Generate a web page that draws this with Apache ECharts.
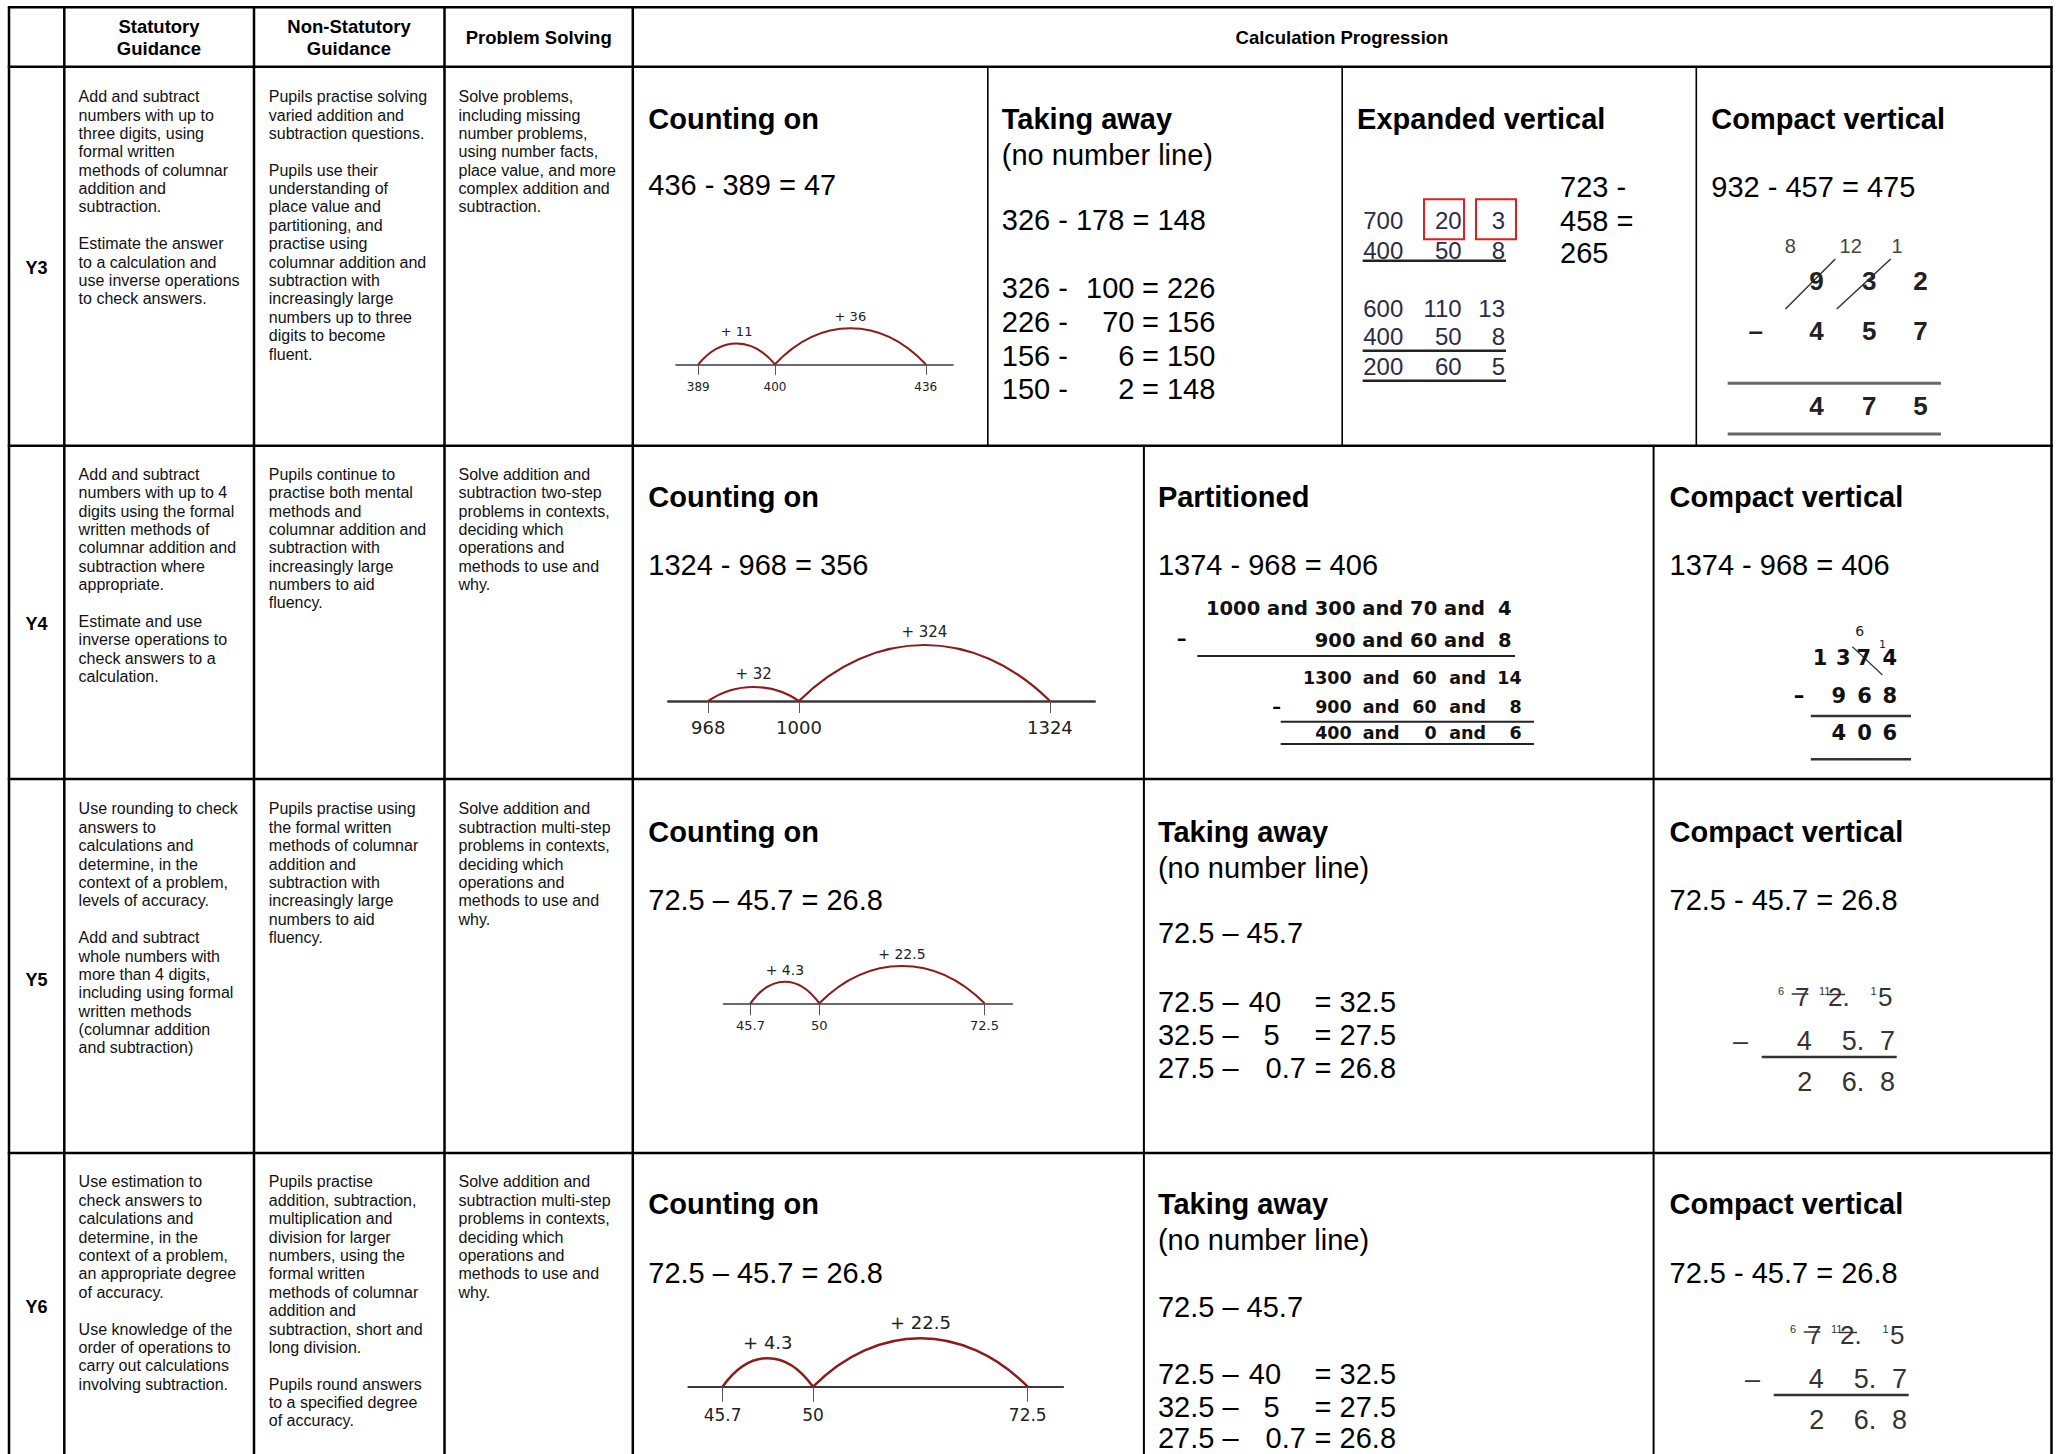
<!DOCTYPE html>
<html><head><meta charset="utf-8">
<script src="https://cdn.jsdelivr.net/npm/echarts@6/dist/echarts.min.js"></script>
<style>html,body{margin:0;padding:0;background:#fff}#c{width:2058px;height:1454px}</style>
</head><body><div id="c"></div>
<script>
// ---------------- data ----------------
const headers = ['Statutory\nGuidance', 'Non-Statutory\nGuidance', 'Problem Solving', 'Calculation Progression'];
const years = ['Y3', 'Y4', 'Y5', 'Y6'];

const statutory = [
  ['Add and subtract','numbers with up to','three digits, using','formal written','methods of columnar','addition and','subtraction.','','Estimate the answer','to a calculation and','use inverse operations','to check answers.'],
  ['Add and subtract','numbers with up to 4','digits using the formal','written methods of','columnar addition and','subtraction where','appropriate.','','Estimate and use','inverse operations to','check answers to a','calculation.'],
  ['Use rounding to check','answers to','calculations and','determine, in the','context of a problem,','levels of accuracy.','','Add and subtract','whole numbers with','more than 4 digits,','including using formal','written methods','(columnar addition','and subtraction)'],
  ['Use estimation to','check answers to','calculations and','determine, in the','context of a problem,','an appropriate degree','of accuracy.','','Use knowledge of the','order of operations to','carry out calculations','involving subtraction.']
];
const nonStatutory = [
  ['Pupils practise solving','varied addition and','subtraction questions.','','Pupils use their','understanding of','place value and','partitioning, and','practise using','columnar addition and','subtraction with','increasingly large','numbers up to three','digits to become','fluent.'],
  ['Pupils continue to','practise both mental','methods and','columnar addition and','subtraction with','increasingly large','numbers to aid','fluency.'],
  ['Pupils practise using','the formal written','methods of columnar','addition and','subtraction with','increasingly large','numbers to aid','fluency.'],
  ['Pupils practise','addition, subtraction,','multiplication and','division for larger','numbers, using the','formal written','methods of columnar','addition and','subtraction, short and','long division.','','Pupils round answers','to a specified degree','of accuracy.']
];
const problemSolving = [
  ['Solve problems,','including missing','number problems,','using number facts,','place value, and more','complex addition and','subtraction.'],
  ['Solve addition and','subtraction two-step','problems in contexts,','deciding which','operations and','methods to use and','why.'],
  ['Solve addition and','subtraction multi-step','problems in contexts,','deciding which','operations and','methods to use and','why.'],
  ['Solve addition and','subtraction multi-step','problems in contexts,','deciding which','operations and','methods to use and','why.']
];

// number lines: tick values, where each tick sits along the (not-to-scale) line, jump sizes, relative arc rise
const y3Marks = [389, 400, 436];   const y3Spots = [0, 1, 2.965]; const y3Jumps = [11, 36];    const y3Rise = [0.58, 1];
const y4Marks = [968, 1000, 1324]; const y4Spots = [0, 1, 3.768]; const y4Jumps = [32, 324];   const y4Rise = [0.25, 1];
const y5Marks = [45.7, 50, 72.5];  const y5Spots = [0, 1, 3.399]; const y5Jumps = [4.3, 22.5]; const y5Rise = [0.58, 1];
const y6Marks = [45.7, 50, 72.5];  const y6Spots = [0, 1, 3.374]; const y6Jumps = [4.3, 22.5]; const y6Rise = [0.59, 1];

// calculation texts
const y3Steps = [['326 -','100','= 226'],['226 -','70','= 156'],['156 -','6','= 150'],['150 -','2','= 148']];
const y5Steps = [['72.5 –','40','= 32.5'],['32.5 –','5','= 27.5'],['27.5 –','0.7','= 26.8']];
const y6Steps = [['72.5 –','40','= 32.5'],['32.5 –','5','= 27.5'],['27.5 –','0.7','= 26.8']];
const y3Expanded = [['700','20','3'],['400','50','8'],['600','110','13'],['400','50','8'],['200','60','5']];
const y4PartTop = [['1000 and 300 and 70 and','4'],['900 and 60 and','8']];
const y4PartBottom = [['1300','60','14'],['900','60','8'],['400','0','6']];
const y3Carry = ['8','12','1'], y3Top = ['9','3','2'], y3Sub = ['4','5','7'], y3Ans = ['4','7','5'];
const y4Top = ['1','3','7','4'], y4Sub = ['9','6','8'], y4Ans = ['4','0','6'];
const decTop = [['6','small'],['7','big'],['11','small'],['2.','big'],['1','small'],['5','big']];
const decSub = ['–','4','5.','7'];
const decAns = ['2','6.','8'];

// ---------------- helpers ----------------
const SANS = '"Liberation Sans", Arial, Helvetica, sans-serif';
const DV = '"DejaVu Sans", Verdana, sans-serif';
function T(text, x, y, size, o) {
  o = o || {};
  const align = o.align || 'left', va = o.va || 'middle';
  const style = {text: text, font: (o.bold ? 'bold ' : '') + size + 'px ' + (o.family || SANS),
    fill: o.color || '#000', textAlign: align, align: align, textVerticalAlign: va, verticalAlign: va};
  if (o.lh) style.lineHeight = o.lh;
  return {type: 'text', x: x, y: y, silent: true, z: 10, style: style};
}
function L(x1, y1, x2, y2, w, c) {
  return {type: 'line', silent: true, z: 5, shape: {x1: x1, y1: y1, x2: x2, y2: y2}, style: {stroke: c || '#000', lineWidth: w || 2}};
}
function R(x, y, w, h, c, lw) {
  return {type: 'rect', silent: true, z: 6, shape: {x: x, y: y, width: w, height: h}, style: {fill: 'none', stroke: c, lineWidth: lw}};
}

const els = [];
// ---------------- table frame ----------------
const X = [9, 64.3, 254, 444.5, 632.8, 2051.5];
const Yh = [7.3, 66.7, 445.7, 779, 1153];
const BOTTOM = 1454;
X.forEach(x => els.push(L(x, Yh[0], x, BOTTOM, 2.5)));
Yh.forEach(y => els.push(L(X[0] - 1.2, y, X[5] + 1.2, y, 2.5)));
[987.8, 1342.2, 1696.3].forEach(x => els.push(L(x, Yh[1], x, Yh[2], 1.6)));
[1143.9, 1653.6].forEach(x => els.push(L(x, Yh[2], x, BOTTOM, 2)));

// headers
els.push(T(headers[0], 159, 37.5, 18.5, {bold: true, align: 'center', lh: 21.6}));
els.push(T(headers[1], 349, 37.5, 18.5, {bold: true, align: 'center', lh: 21.6}));
els.push(T(headers[2], 538.7, 37.7, 18.5, {bold: true, align: 'center'}));
els.push(T(headers[3], 1342, 37.7, 18.5, {bold: true, align: 'center'}));

// year labels and guidance paragraphs
const yearY = [268, 624, 980, 1306.7];
const paraY = [96.7, 474.3, 809, 1182];
const LH = 18.38;
years.forEach((yr, i) => {
  els.push(T(yr, 36.6, yearY[i], 18, {bold: true, align: 'center'}));
  [statutory, nonStatutory, problemSolving].forEach((col, c) => {
    els.push(T(col[i].join('\n'), [78.6, 268.8, 458.5][c], paraY[i] - LH / 2, 16, {va: 'top', lh: LH, color: '#111'}));
  });
});

// ---------------- Y3 calculation cells ----------------
els.push(T('Counting on', 648.3, 118.5, 29, {bold: true}));
els.push(T('436 - 389 = 47', 648.3, 185, 29));
els.push(T('Taking away', 1001.8, 118.5, 29, {bold: true}));
els.push(T('(no number line)', 1001.8, 155, 29));
els.push(T('326 - 178 = 148', 1001.8, 220, 29));
[288.3, 321.7, 355.7, 389.3].forEach((y, i) => {
  els.push(T(y3Steps[i][0], 1001.8, y, 29));
  els.push(T(y3Steps[i][1], 1134.5, y, 29, {align: 'right'}));
  els.push(T(y3Steps[i][2], 1142, y, 29));
});
els.push(T('Expanded vertical', 1357.1, 118.5, 29, {bold: true}));
els.push(T('723 -', 1560, 186.7, 29));
els.push(T('458 =', 1560, 221, 29));
els.push(T('265', 1560, 253.3, 29));
[220, 250, 308.3, 336.7, 366.7].forEach((y, r) => {
  [1403.3, 1461.7, 1505].forEach((x, c) => els.push(T(y3Expanded[r][c], x, y, 24, {align: 'right', color: '#2b2b48'})));
});
[260.7, 350.7, 380.7].forEach(y => els.push(L(1362.7, y, 1506, y, 2.5, '#222')));
els.push(R(1424, 199.3, 40, 40, '#e51c1c', 2));
els.push(R(1476, 199.3, 40, 40, '#e51c1c', 2));

els.push(T('Compact vertical', 1711.3, 118.5, 29, {bold: true}));
els.push(T('932 - 457 = 475', 1711.3, 186.7, 29));
const y3Cols = [1816.4, 1869.2, 1920.5];
[1790.4, 1850.7, 1897].forEach((x, i) => els.push(T(y3Carry[i], x, 246, 20, {align: 'center', color: '#444'})));
y3Cols.forEach((x, i) => {
  els.push(T(y3Top[i], x, 281, 26, {bold: true, align: 'center', color: '#222'}));
  els.push(T(y3Sub[i], x, 331, 26, {bold: true, align: 'center', color: '#222'}));
  els.push(T(y3Ans[i], x, 406, 26, {bold: true, align: 'center', color: '#222'}));
});
els.push(T('–', 1755.8, 331, 26, {bold: true, align: 'center', color: '#222'}));
els.push(L(1785.5, 309, 1835.3, 259, 1.5, '#333'));
els.push(L(1836.8, 309, 1890.7, 259, 1.5, '#333'));
els.push(L(1727.7, 383.3, 1940.9, 383.3, 3, '#666'));
els.push(L(1727.7, 434, 1940.9, 434, 3, '#666'));

// ---------------- Y4 ----------------
els.push(T('Counting on', 648.3, 497, 29, {bold: true}));
els.push(T('1324 - 968 = 356', 648.3, 565.3, 29));
els.push(T('Partitioned', 1157.9, 497, 29, {bold: true}));
els.push(T('1374 - 968 = 406', 1157.9, 565.3, 29));
[608.3, 640].forEach((y, r) => {
  els.push(T(y4PartTop[r][0], 1485, y, 19.5, {bold: true, align: 'right', family: DV, color: '#111'}));
  els.push(T(y4PartTop[r][1], 1511.7, y, 19.5, {bold: true, align: 'right', family: DV, color: '#111'}));
});
els.push(T('–', 1181.5, 638.3, 19.5, {bold: true, align: 'center', family: DV}));
els.push(L(1197.3, 656, 1515, 656, 2, '#222'));
[678.3, 706.7, 732.7].forEach((y, r) => {
  els.push(T(y4PartBottom[r][0], 1351.7, y, 17.5, {bold: true, align: 'right', family: DV, color: '#111'}));
  els.push(T('and', 1362.7, y, 17.5, {bold: true, family: DV, color: '#111'}));
  els.push(T(y4PartBottom[r][1], 1436.7, y, 17.5, {bold: true, align: 'right', family: DV, color: '#111'}));
  els.push(T('and', 1449.3, y, 17.5, {bold: true, family: DV, color: '#111'}));
  els.push(T(y4PartBottom[r][2], 1521.7, y, 17.5, {bold: true, align: 'right', family: DV, color: '#111'}));
});
els.push(T('–', 1276.7, 706.7, 17.5, {bold: true, align: 'center', family: DV}));
els.push(L(1280.7, 721.7, 1534, 721.7, 2, '#222'));
els.push(L(1280.7, 744, 1534, 744, 2, '#222'));

els.push(T('Compact vertical', 1669.5, 497, 29, {bold: true}));
els.push(T('1374 - 968 = 406', 1669.5, 565.3, 29));
[1820.1, 1843.2, 1863.7, 1889.7].forEach((x, i) => els.push(T(y4Top[i], x, 658.3, 21, {bold: true, align: 'center', family: DV, color: '#111'})));
els.push(T('6', 1859.8, 630.7, 14, {align: 'center', family: DV, color: '#222'}));
els.push(T('1', 1882.4, 644, 11, {align: 'center', family: DV, color: '#222'}));
els.push(L(1852.4, 646.7, 1882.4, 675, 1.2, '#333'));
els.push(T('–', 1799, 696, 21, {bold: true, align: 'center', family: DV}));
[1838.7, 1864.6, 1889.7].forEach((x, i) => {
  els.push(T(y4Sub[i], x, 696, 21, {bold: true, align: 'center', family: DV, color: '#111'}));
  els.push(T(y4Ans[i], x, 733.3, 21, {bold: true, align: 'center', family: DV, color: '#111'}));
});
els.push(L(1810.8, 716, 1911, 716, 2.5, '#333'));
els.push(L(1810.8, 759.3, 1911, 759.3, 2.5, '#333'));

// ---------------- Y5 / Y6 ----------------
function lowerRow(yT, yParen, yEq, yFirst, yRows, steps, dx, dy) {
  els.push(T('Counting on', 648.3, yT, 29, {bold: true}));
  els.push(T('72.5 – 45.7 = 26.8', 648.3, yEq, 29));
  els.push(T('Taking away', 1157.9, yT, 29, {bold: true}));
  els.push(T('(no number line)', 1157.9, yParen, 29));
  els.push(T('72.5 – 45.7', 1157.9, yFirst, 29));
  yRows.forEach((y, i) => {
    els.push(T(steps[i][0], 1157.9, y, 29));
    els.push(T(steps[i][1], [1248.8, 1263.6, 1265.5][i], y, 29));
    els.push(T(steps[i][2], 1314.6, y, 29));
  });
  els.push(T('Compact vertical', 1669.5, yT, 29, {bold: true}));
  els.push(T('72.5 - 45.7 = 26.8', 1669.5, yEq, 29));
  const topX = [1778, 1795, 1819, 1828, 1870.5, 1878];
  decTop.forEach((d, i) => {
    const small = d[1] === 'small';
    els.push(T(d[0], topX[i] + dx, (small ? 990.5 : 996.7) + dy, small ? 11 : 26, {color: '#333'}));
  });
  els.push(L(1791.7 + dx, 994 + dy, 1808.3 + dx, 994 + dy, 1.5, '#333'));
  els.push(L(1827 + dx, 994.5 + dy, 1845 + dx, 994.5 + dy, 1.5, '#333'));
  [1733, 1796.7, 1841.7, 1880].forEach((x, i) => els.push(T(decSub[i], x + dx, 1040.5 + dy, 27, {color: '#333'})));
  els.push(L(1761.7 + dx, 1057 + dy, 1896.7 + dx, 1057 + dy, 2.5, '#333'));
  [1797.3, 1841.7, 1880].forEach((x, i) => els.push(T(decAns[i], x + dx, 1081.7 + dy, 27, {color: '#333'})));
}
lowerRow(832, 868.3, 900.3, 933.3, [1001.7, 1035, 1068.3], y5Steps, 0, 0);
lowerRow(1203.5, 1240, 1272.7, 1306.7, [1374, 1407.3, 1438], y6Steps, 12, 338);

// ---------------- number lines (ECharts grids / axes / custom series) ----------------
const numberLines = [
  {marks: y3Marks, spots: y3Spots, jumps: y3Jumps, rise: y3Rise},
  {marks: y4Marks, spots: y4Spots, jumps: y4Jumps, rise: y4Rise},
  {marks: y5Marks, spots: y5Spots, jumps: y5Jumps, rise: y5Rise},
  {marks: y6Marks, spots: y6Spots, jumps: y6Jumps, rise: y6Rise}
];
const lineLayout = [
  {left: 676, right: 953, axisY: 364.3, H: 36, min: -0.29, max: 3.32, tick: 10.5, margin: 17, lf: 12, jf: 13, jg: 12, axisW: 1.6, arcW: 2},
  {left: 668.3, right: 1094.7, axisY: 701, H: 56, min: -0.441, max: 4.262, tick: 12, margin: 17, lf: 18, jf: 15, jg: 13, axisW: 2.6, arcW: 2.2},
  {left: 723.5, right: 1012.4, axisY: 1003.3, H: 37.3, min: -0.391, max: 3.804, tick: 12, margin: 16, lf: 13, jf: 14, jg: 12, axisW: 1.6, arcW: 2},
  {left: 688.4, right: 1063.1, axisY: 1386.7, H: 48.4, min: -0.378, max: 3.765, tick: 15, margin: 20, lf: 17, jf: 18, jg: 15.6, axisW: 2, arcW: 2.5}
];

function arcRenderer(g) {
  return function (params, api) {
    const a = api.coord([api.value(0), 0]);
    const b = api.coord([api.value(1), 0]);
    const p = api.coord([api.value(0), api.value(2)]);
    const h = a[1] - p[1];
    const w = b[0] - a[0];
    const k = 4 / 3 * h;
    return {type: 'group', children: [
      {type: 'bezierCurve', shape: {x1: a[0], y1: a[1], x2: b[0], y2: b[1], cpx1: a[0] + 0.3 * w, cpy1: a[1] - k, cpx2: b[0] - 0.3 * w, cpy2: b[1] - k},
        style: {stroke: '#8b1c1c', lineWidth: g.arcW, fill: 'none'}},
      {type: 'text', x: (a[0] + b[0]) / 2, y: p[1] - g.jg,
        style: {text: '+ ' + api.value(3), font: g.jf + 'px ' + DV, fill: '#222', textAlign: 'center', align: 'center', textVerticalAlign: 'middle', verticalAlign: 'middle'}}
    ]};
  };
}

const option = {
  backgroundColor: '#fff',
  animation: false,
  grid: lineLayout.map(g => ({left: g.left, top: g.axisY - g.H, width: g.right - g.left, height: g.H, containLabel: false})),
  xAxis: numberLines.map((nl, i) => {
    const g = lineLayout[i];
    return {
      gridIndex: i, type: 'value', min: g.min, max: g.max, position: 'bottom',
      axisLine: {show: true, onZero: false, lineStyle: {color: '#3a3a3a', width: g.axisW}},
      axisTick: {show: true, customValues: nl.spots, length: g.tick, inside: false, lineStyle: {color: '#555', width: 1}},
      axisLabel: {show: true, customValues: nl.spots, margin: g.margin, fontSize: g.lf, fontFamily: 'DejaVu Sans', color: '#222',
        formatter: function (v) {
          for (let k = 0; k < nl.spots.length; k++) if (Math.abs(nl.spots[k] - v) < 1e-6) return String(nl.marks[k]);
          return '';
        }},
      splitLine: {show: false}
    };
  }),
  yAxis: numberLines.map((nl, i) => ({gridIndex: i, type: 'value', min: 0, max: 1, show: false})),
  series: numberLines.map((nl, i) => ({
    type: 'custom', xAxisIndex: i, yAxisIndex: i, clip: false, silent: true,
    renderItem: arcRenderer(lineLayout[i]),
    data: nl.jumps.map((j, k) => [nl.spots[k], nl.spots[k + 1], nl.rise[k], j])
  })),
  graphic: {elements: els}
};

const chart = echarts.init(document.getElementById('c'), null, {renderer: 'svg', width: 2058, height: 1454});
chart.setOption(option);
</script></body></html>
